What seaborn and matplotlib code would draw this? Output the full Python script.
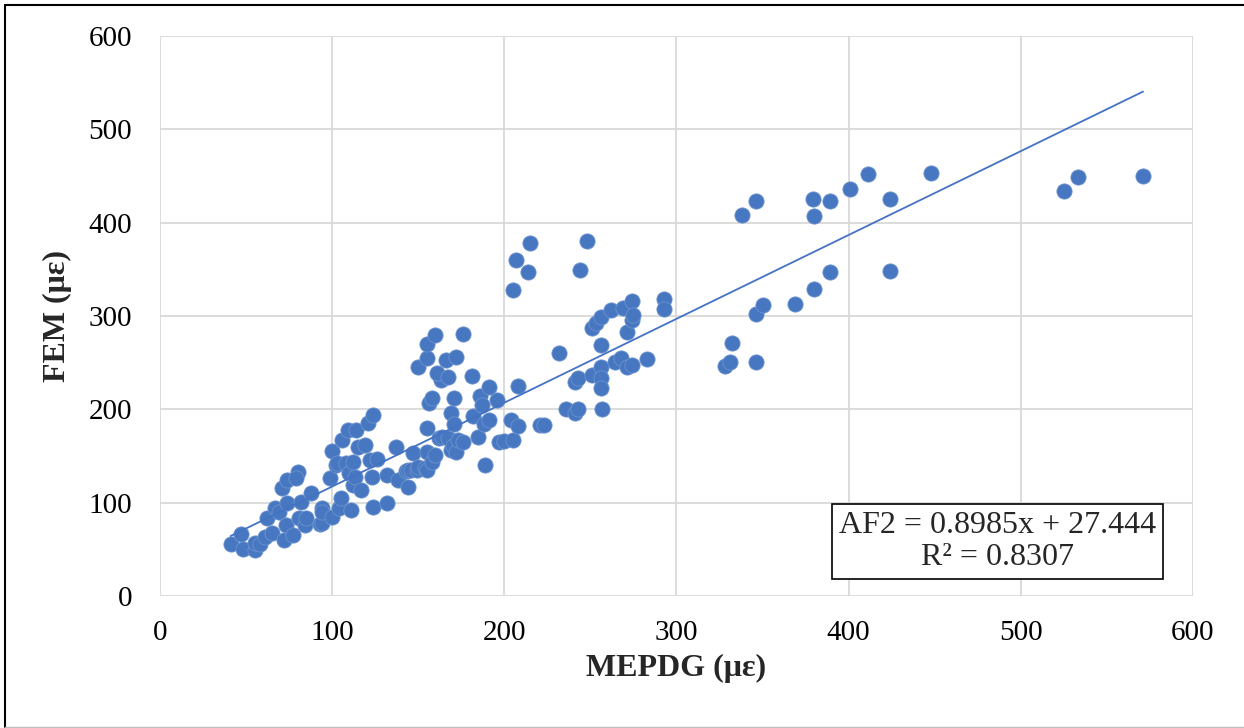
import numpy as np
import pandas as pd
import seaborn as sns
from matplotlib import pyplot as plt
from matplotlib.lines import Line2D

sns.set_style("whitegrid")
plt.rcParams["font.family"] = ["Liberation Serif", "DejaVu Serif"]

# values (MEPDG vs FEM strain, microstrain)
mepdg = [41, 47, 48, 55, 55, 58, 61, 62, 65, 67, 69, 71, 72, 73, 74, 74, 77, 80, 79, 81,
         82, 84, 85, 88, 93, 94, 94, 94, 99, 100, 100, 102, 103, 104, 105, 106, 108, 109, 110, 111,
         112, 112, 113, 114, 115, 117, 119, 121, 122, 123, 124, 124, 126, 132, 132, 137, 138, 143, 144, 144,
         146, 147, 149, 150, 150, 154, 155, 155, 155, 155, 155, 156, 158, 158, 160, 160, 162, 163, 161, 164,
         166, 167, 167, 169, 169, 170, 171, 171, 172, 172, 173, 176, 176, 181, 182, 185, 186, 187, 188, 189,
         191, 191, 196, 197, 200, 204, 205, 205, 207, 208, 208, 214, 215, 221, 223, 232, 236, 241, 243, 241,
         243, 244, 248, 251, 251, 253, 256, 256, 256, 256, 256, 257, 262, 264, 268, 269, 271, 271, 274, 274,
         274, 275, 283, 293, 293, 328, 331, 332, 338, 346, 346, 346, 350, 369, 380, 379, 380, 389, 389, 401,
         411, 424, 424, 448, 525, 533, 571]
fem = [56, 66, 50, 49, 57, 56, 63, 84, 67, 94, 90, 116, 60, 76, 100, 124, 65, 133, 126, 84,
       101, 76, 84, 110, 77, 78, 94, 90, 126, 85, 155, 140, 142, 94, 105, 167, 143, 178, 132, 92,
       144, 119, 128, 178, 160, 114, 162, 185, 146, 128, 194, 95, 147, 130, 100, 160, 124, 134, 135, 117,
       135, 153, 135, 138, 245, 137, 135, 154, 180, 255, 270, 207, 144, 212, 280, 151, 169, 231, 239, 170,
       253, 235, 169, 196, 156, 161, 212, 184, 256, 154, 167, 165, 281, 236, 193, 170, 214, 205, 184, 140,
       224, 189, 210, 165, 166, 189, 328, 167, 360, 182, 225, 347, 378, 183, 183, 260, 200, 196, 200, 229,
       234, 349, 380, 237, 287, 292, 299, 245, 234, 223, 269, 200, 306, 251, 255, 309, 245, 283, 247, 316,
       296, 301, 254, 318, 308, 246, 251, 271, 408, 423, 251, 302, 312, 313, 329, 425, 407, 347, 423, 436,
       452, 425, 348, 453, 434, 449, 450]

slope = 0.8985
intercept = 27.444
r2 = 0.8307

df = pd.DataFrame({"MEPDG": mepdg, "FEM": fem})

fig, ax = plt.subplots(figsize=(12.44, 7.28), dpi=100)
fig.subplots_adjust(left=0.1286, right=0.959, top=0.9505, bottom=0.1813)

blue = "#4677c0"
sns.scatterplot(data=df, x="MEPDG", y="FEM", ax=ax, s=120, color=blue,
                edgecolor="#6d93cf", linewidth=0.6, zorder=3)

# linear trend line over the data range
xs = np.array([df.MEPDG.min(), df.MEPDG.max()])
ax.plot(xs, slope * xs + intercept, color="#4472C4", lw=1.3, zorder=4)

ax.set_xlim(0, 600)
ax.set_ylim(0, 600)
ax.set_xticks(range(0, 601, 100))
ax.set_yticks(range(0, 601, 100))
ax.grid(True, color="#d9d9d9", lw=1.3)
for sp in ax.spines.values():
    sp.set_visible(False)
ax.tick_params(axis="both", labelsize=21, length=0, colors="black")
ax.tick_params(axis="x", pad=17)
ax.tick_params(axis="y", pad=20)

ax.set_xlabel("MEPDG (με)", fontsize=23, fontweight="bold", labelpad=6)
ax.set_ylabel("FEM (με)", fontsize=23, fontweight="bold", labelpad=12)

ax.text(0.811, 0.097, f"AF2 = {slope}x + {intercept}\nR² = {r2}",
        transform=ax.transAxes, ha="center", va="center", fontsize=23,
        linespacing=1.12, zorder=5,
        bbox=dict(boxstyle="square,pad=0.22", facecolor="white", edgecolor="black", lw=1.2))

# outer chart border (left/top dark, bottom light)
fig.lines.append(Line2D([5 / 1244, 5 / 1244], [1 / 728, 723 / 728], transform=fig.transFigure,
                        color="black", lw=1.5))
fig.lines.append(Line2D([5 / 1244, 1], [723 / 728, 723 / 728], transform=fig.transFigure,
                        color="black", lw=1.5))
fig.lines.append(Line2D([5 / 1244, 1], [1 / 728, 1 / 728], transform=fig.transFigure,
                        color="#bfbfbf", lw=1.0))

plt.savefig("out.png", dpi=100)
